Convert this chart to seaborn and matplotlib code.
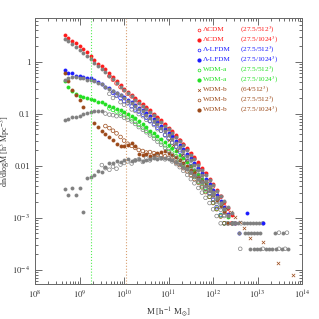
import numpy as np
import matplotlib
matplotlib.use("Agg")
import matplotlib.pyplot as plt
import seaborn as sns
from matplotlib.ticker import FixedLocator, FixedFormatter, LogLocator, NullFormatter

# mass bins, log10(M [h^-1 Msun]), 1/12 dex apart
mbins = [8.67, 8.75, 8.83, 8.92, 9.00, 9.08, 9.17, 9.25, 9.33, 9.42, 9.50, 9.58,
         9.67, 9.75, 9.83, 9.92, 10.00, 10.08, 10.17, 10.25, 10.33, 10.42, 10.50, 10.58,
         10.67, 10.75, 10.83, 10.92, 11.00, 11.08, 11.17, 11.25, 11.33, 11.42, 11.50, 11.58,
         11.67, 11.75, 11.83, 11.92, 12.00, 12.08, 12.17, 12.25, 12.33, 12.42, 12.50, 12.58,
         12.67, 12.75, 12.83, 12.92, 13.00, 13.08, 13.17, 13.25, 13.33, 13.42, 13.50, 13.58,
         13.67, 13.75, 13.83, 13.92]

# log10(dn/dlogM); each series starts at bin index given
lcdm_1024 = [0.51, 0.46, 0.40, 0.35, 0.30, 0.24, 0.18, 0.10, 0.03, -0.04, -0.09, -0.15,
             -0.22, -0.30, -0.38, -0.45, -0.52, -0.58, -0.64, -0.70, -0.76, -0.82, -0.88, -0.94,
             -1.00, -1.07, -1.13, -1.20, -1.27, -1.34, -1.42, -1.50, -1.58, -1.66, -1.75, -1.84,
             -1.94, -2.04, -2.14, -2.25, -2.36, -2.46, -2.58, -2.70, -2.82, -2.95, -3.11]
lcdm_512 = [-0.28, -0.35, -0.42, -0.49, -0.55, -0.62, -0.67, -0.73, -0.79, -0.85, -0.90, -0.97,
            -1.03, -1.09, -1.16, -1.22, -1.30, -1.37, -1.45, -1.52, -1.60, -1.69, -1.78, -1.87,
            -1.97, -2.08, -2.16, -2.30, -2.40, -2.52, -2.60, -2.78, -2.90, -3.11]
lfdm_1024 = [-0.16, -0.22, -0.22, -0.27, -0.27, -0.29, -0.32, -0.32, -0.35, -0.40, -0.43, -0.48,
             -0.51, -0.56, -0.60, -0.64, -0.68, -0.73, -0.78, -0.84, -0.89, -0.94, -0.99, -1.05,
             -1.11, -1.17, -1.23, -1.30, -1.37, -1.44, -1.52, -1.60, -1.68, -1.77, -1.86, -1.95,
             -2.05, -2.15, -2.26, -2.36, -2.46, -2.57, -2.69, -2.80, -2.93, -3.11, -3.11, -3.29]
lfdm_512 = [-0.60, -0.65, -0.70, -0.76, -0.80, -0.86, -0.92, -0.96, -1.02, -1.08, -1.14, -1.20,
            -1.27, -1.33, -1.41, -1.48, -1.56, -1.64, -1.73, -1.82, -1.91, -2.01, -2.10, -2.22,
            -2.31, -2.44, -2.53, -2.66, -2.80, -2.95, -3.11]
wdma_1024 = [-0.38, -0.48, -0.56, -0.63, -0.66, -0.68, -0.70, -0.72, -0.74, -0.77, -0.78, -0.81,
             -0.85, -0.88, -0.91, -0.94, -0.97, -1.01, -1.05, -1.09, -1.14, -1.20, -1.26, -1.33,
             -1.38, -1.43, -1.48, -1.54, -1.60, -1.66, -1.72, -1.79, -1.86, -1.93, -2.00, -2.08,
             -2.16, -2.25, -2.34, -2.43, -2.52, -2.62, -2.73, -2.85, -2.98, -3.11]
wdma_512 = [-0.90, -0.93, -0.96, -1.00, -1.03, -1.07, -1.11, -1.16, -1.22, -1.27, -1.33, -1.38,
            -1.43, -1.49, -1.55, -1.61, -1.68, -1.75, -1.82, -1.89, -1.97, -2.05, -2.13, -2.22,
            -2.31, -2.40, -2.49, -2.60, -2.71, -2.83, -2.96, -3.11]
wdmb_1024 = [-0.22, -0.38, -0.54, -0.64, -0.74, -0.87, np.nan, np.nan, -1.18, -1.26, -1.33, -1.39,
             -1.45, -1.51, -1.58, -1.62, -1.63, -1.60, -1.57, -1.62, -1.78, -1.80, -1.77, -1.82,
             -1.80, -1.76, -1.73, -1.72, -1.75, -1.79, -1.84, -1.90, -1.95, -2.01, -2.08, -2.15,
             -2.22, -2.30, -2.38, -2.47, -2.56, -2.66, -2.77, -2.90, -3.11]
wdmb_512 = [-1.24, -1.28, -1.33, -1.38, -1.45, -1.52, -1.58, -1.62, -1.66, -1.70, -1.72, -1.75,
            -1.74, -1.76, -1.79, -1.80, -1.82, -1.85, -1.89, -1.94, -1.99, -2.05, -2.11, -2.18,
            -2.26, -2.33, -2.42, -2.51, -2.60, -2.72, -2.84, -2.98, -3.11]
# WDM-b 64 Mpc box (own mass points)
wdmb_64_lm = [11.00, 11.10, 11.20, 11.30, 11.40, 11.50, 11.60, 11.70, 11.80, 11.90, 12.00, 12.10,
              12.20, 12.30, 12.40, 12.50, 12.60, 12.70, 12.83, 13.12, 13.46, 13.80, 13.62, 13.87]
wdmb_64 = [-1.50, -1.60, -1.70, -1.80, -1.90, -2.00, -2.10, -2.21, -2.32, -2.42, -2.52, -2.62,
           -2.72, -2.81, -2.90, -2.98, -3.08, -3.20, -3.39, -3.47, -3.87, -4.10, -4.31, -4.31]

# grey points (other runs, no legend)
grey_lcdm = [0.44, 0.39, 0.33, 0.28, 0.23, 0.17, 0.11, 0.04, -0.03, -0.09, -0.14, -0.20,
             -0.27, -0.34, -0.41, -0.48, -0.55, -0.61, -0.67, -0.73, -0.79, -0.85, -0.91, -0.97,
             -1.03, -1.10, -1.16, -1.23, -1.30, -1.37, -1.45, -1.53, -1.61, -1.70, -1.79, -1.88,
             -1.98, -2.08, -2.18, -2.28, -2.38, -2.48, -2.58, -2.69, -2.80, -2.92, -3.11, -3.29]
grey_lfdm = [-0.35, -0.32, -0.30, -0.29, -0.31, -0.32, -0.35, -0.36, -0.38, -0.41, -0.44, -0.48,
             -0.52, -0.56, -0.61, -0.65, -0.70, -0.75, -0.80, -0.85, -0.91, -0.96, -1.02, -1.08,
             -1.14, -1.20, -1.27, -1.34, -1.41, -1.48, -1.56, -1.64, -1.72, -1.81, -1.90, -1.99,
             -2.09, -2.19, -2.29, -2.40, -2.50, -2.61, -2.72, -2.84, -2.97, -3.11]
grey_wdma = [-1.12, -1.10, -1.07, -1.06, -1.04, -1.01, -0.99, -0.97, -0.95, -0.95, -0.96]
grey_wdma_o = [-1.00, -1.02, -1.03, -1.05, -1.04, -1.08, -1.12, -1.15, -1.20, -1.26, -1.31, -1.36,
               -1.42, -1.48, -1.54, -1.60, -1.66, -1.72, -1.79, -1.86, -1.93, -2.00, -2.07, -2.14,
               -2.22, -2.30, -2.38, -2.46, -2.55, -2.64, -2.74, -2.85, -2.97, -3.11]
grey_wdmb = [-2.45, -2.56, -2.43, -2.56, -2.43, -2.90, -2.23, -2.21, -2.19, -2.10, -2.13, -2.03,
             -1.95, -1.95, -1.92, -1.93, -1.90, -1.88, -1.92, -1.90, -1.88, -1.92, -1.90, -1.88,
             -1.85, -1.88, -1.86, -1.85, -1.87, -1.90, -1.93, -1.97, -2.02, -2.07, -2.13, -2.19,
             -2.25, -2.32, -2.39, -2.46, -2.54, -2.63, -2.72, -2.83, -2.95, -3.11]
grey_o1 = [-0.62, -0.70, -0.66, -0.78, -0.83, -0.80, -0.92, -0.95, -1.01, -1.05, -1.12, -1.15,
           -1.22, -1.30, -1.33, -1.42, -1.47, -1.56, -1.63, -1.70, -1.80, -1.88, -1.98, -2.05,
           -2.18, -2.25, -2.36, -2.48, -2.56, -2.70, -2.80, -2.95, -3.11]
grey_o2 = [-1.99, -2.05, -2.08, -2.02, -2.06, -1.98, -1.95, -1.92, -1.96, -1.90, -1.88, -1.93,
           -1.86, -1.90, -1.85, -1.82, -1.86, -1.88, -1.86, -1.92, -1.97, -2.03, -2.10, -2.18,
           -2.26, -2.34, -2.43, -2.52, -2.62, -2.72, -2.84, -2.97, -3.11]
# high-mass tail, few haloes per bin
hi_f_lm = [12.56, 12.70, 12.76, 12.83, 12.90, 12.97, 13.03, 12.72, 12.79, 12.85, 12.92, 12.99,
           13.06, 13.39, 13.57, 12.83, 12.92, 12.99, 13.06, 13.19, 13.26, 13.33, 13.42, 13.55, 13.69]
hi_f = [-3.11, -3.11, -3.11, -3.11, -3.11, -3.11, -3.11, -3.29, -3.29, -3.29, -3.29, -3.29,
        -3.29, -3.29, -3.29, -3.60, -3.60, -3.60, -3.60, -3.60, -3.60, -3.60, -3.60, -3.60, -3.60]
hi_o_lm = [12.49, 12.63, 13.12, 13.48, 13.66, 12.61, 13.12, 13.48, 13.62]
hi_o = [-3.11, -3.11, -3.11, -3.29, -3.29, -3.60, -3.60, -3.60, -3.60]
hi_b_lm = [12.76, 13.12]
hi_b = [-2.92, -3.11]

legend_names = ["\u039bCDM", "\u039bCDM", "\u039b-LFDM", "\u039b-LFDM", "WDM-a", "WDM-a",
                "WDM-b", "WDM-b", "WDM-b"]
legend_runs = ["(27.5/512$^3$)", "(27.5/1024$^3$)", "(27.5/512$^3$)", "(27.5/1024$^3$)",
               "(27.5/512$^3$)", "(27.5/1024$^3$)", "(64/512$^3$)", "(27.5/512$^3$)",
               "(27.5/1024$^3$)"]

RED, BLUE, GREEN, BROWN, GREY = "#ff1a1a", "#1a1aff", "#22e022", "#9c4a1a", "#808080"
legend_styles = [(RED, "o"), (RED, "f"), (BLUE, "o"), (BLUE, "f"), (GREEN, "o"), (GREEN, "f"),
                 (BROWN, "x"), (BROWN, "o"), (BROWN, "f")]

sns.set_style("ticks")
plt.rcParams["font.family"] = ["Liberation Serif", "DejaVu Serif"]
plt.rcParams["mathtext.fontset"] = "stix"

fig, ax = plt.subplots(figsize=(3.19, 3.19), dpi=100)
fig.subplots_adjust(left=0.110, right=0.947, bottom=0.110, top=0.944)


def draw(vals, color, kind, start=0, lm=None, s=7):
    if lm is None:
        lm = mbins[start:start + len(vals)]
    x = 10 ** np.array(lm, dtype=float)
    y = 10 ** np.array(vals, dtype=float)
    if kind == "x":
        sns.scatterplot(x=x, y=y, ax=ax, marker="x", color=color, s=s * 0.8, linewidth=0.5)
    elif kind == "o":
        sns.scatterplot(x=x, y=y, ax=ax, marker="o", color=color, facecolor="none",
                        edgecolor=color, s=s, linewidth=0.5)
    else:
        sns.scatterplot(x=x, y=y, ax=ax, marker="o", color=color, edgecolor=color,
                        s=s, linewidth=0.1)


ax.axvline(1.8e9, color="#55ee55", ls=":", lw=0.8)
ax.axvline(1.12e10, color="#d8a070", ls=":", lw=0.8)

draw(lcdm_512, RED, "o", start=12)
draw(lfdm_512, BLUE, "o", start=13)
draw(wdma_512, GREEN, "o", start=12)
draw(wdmb_512, BROWN, "o", start=11)
draw(lcdm_1024, RED, "f")
draw(lfdm_1024, BLUE, "f")
draw(wdma_1024, GREEN, "f")
draw(wdmb_1024, BROWN, "f")
draw(wdmb_64, BROWN, "x", lm=wdmb_64_lm)

draw(grey_lcdm, GREY, "f")
draw(grey_lfdm, GREY, "f")
draw(grey_wdma, GREY, "f")
draw(grey_wdma_o, GREY, "o", start=11)
draw(grey_wdmb, GREY, "f")
draw(grey_o1, GREY, "o", start=12)
draw(grey_o2, GREY, "o", start=10)
draw(hi_f, GREY, "f", lm=hi_f_lm)
draw(hi_o, GREY, "o", lm=hi_o_lm)
draw(hi_b, BLUE, "f", lm=hi_b_lm)

ax.set_xscale("log")
ax.set_yscale("log")
ax.set_xlim(1e8, 1e14)
ax.set_ylim(10 ** -4.275, 10 ** 0.84)

ax.xaxis.set_major_locator(FixedLocator([10.0 ** k for k in range(8, 15)]))
ax.xaxis.set_major_formatter(FixedFormatter([f"$10^{{{k}}}$" for k in range(8, 15)]))
ax.xaxis.set_minor_locator(LogLocator(base=10, subs=np.arange(2, 10), numticks=20))
ax.xaxis.set_minor_formatter(NullFormatter())
ax.yaxis.set_major_locator(FixedLocator([1e-4, 1e-3, 1e-2, 1e-1, 1]))
ax.yaxis.set_major_formatter(FixedFormatter(["$10^{-4}$", "$10^{-3}$", "0.01", "0.1", "1"]))
ax.yaxis.set_minor_locator(LogLocator(base=10, subs=np.arange(2, 10), numticks=20))
ax.yaxis.set_minor_formatter(NullFormatter())
ax.tick_params(which="both", direction="in", top=True, right=True, colors="#555555",
               labelcolor="#333333", labelsize=6.3, width=0.6)
ax.tick_params(which="major", length=5)
ax.tick_params(which="minor", length=2.5)
for sp in ax.spines.values():
    sp.set_color("#666666")
    sp.set_linewidth(0.7)

ax.set_xlabel("M [h$^{-1}$ M$_{\\odot}$]", fontsize=6.3, color="#333333", labelpad=3)
ax.set_ylabel("dn/dlogM [h$^3$ Mpc$^{-3}$]", fontsize=5.8, color="#333333")
ax.yaxis.set_label_coords(-0.085, 0.5)

# hand-made legend in the upper right
for k, (name, run) in enumerate(zip(legend_names, legend_runs)):
    yy = 0.955 - k * 0.0376
    col, kind = legend_styles[k]
    if kind == "x":
        ax.plot([0.614], [yy], "x", color=col, ms=2.0, mew=0.5, transform=ax.transAxes)
    elif kind == "o":
        ax.plot([0.614], [yy], "o", mfc="none", mec=col, ms=2.0, mew=0.5, transform=ax.transAxes)
    else:
        ax.plot([0.614], [yy], "o", color=col, ms=2.0, transform=ax.transAxes)
    ax.text(0.629, yy, name, color=col, fontsize=5.2, va="center", ha="left",
            transform=ax.transAxes)
    ax.text(0.768, yy, run, color=col, fontsize=5.2, va="center", ha="left",
            transform=ax.transAxes)

fig.savefig("out.png", dpi=100)
